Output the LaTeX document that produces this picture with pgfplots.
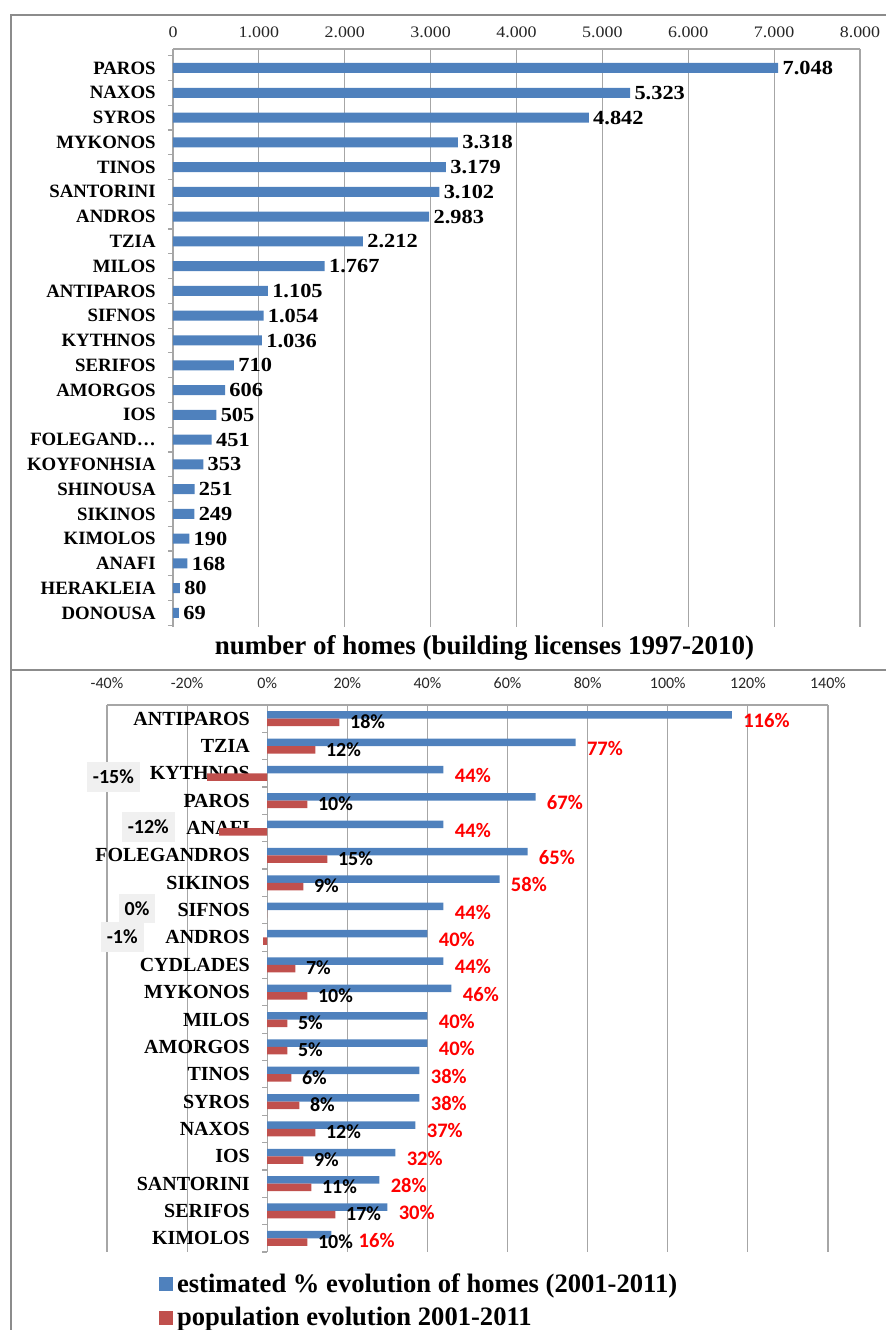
\documentclass[border=0pt]{standalone}
\usepackage{pgfplots}
\pgfplotsset{compat=1.18}
\usepackage{fontspec}
\setmainfont{Liberation Serif}
\newfontfamily\serifwide[FakeStretch=1.12]{Liberation Serif}
\newfontfamily\calib{Carlito}
\definecolor{cblue}{HTML}{4F81BD}
\definecolor{cred}{HTML}{C0504D}
\definecolor{gridc}{HTML}{A6A6A6}
\def\nnstr{n}
\newcommand{\redlab}[1]{\edef\tmp{#1}\ifx\tmp\nnstr\else\tmp\%\fi}
\begin{document}
\begin{tikzpicture}
\path[use as bounding box] (0pt,0pt) rectangle (443pt,665pt);
% ---------------- top panel ----------------
\begin{axis}[
 at={(86.5pt,351.5pt)}, anchor=south west,
 scale only axis, width=343.5pt, height=289pt,
 bar width=5pt,
 xmin=0, xmax=8000, ymin=-0.565, ymax=22.767,
 axis x line=top, axis y line=left,
 axis line style={-, draw=gridc, line width=0.6pt},
 xtick={0,1000,...,8000},
 xticklabels={0,1.000,2.000,3.000,4.000,5.000,6.000,7.000,8.000},
 xticklabel style={font=\serifwide\fontsize{8}{9}\selectfont, text=black!85, inner sep=0pt, anchor=south},
 xticklabel shift=5.6pt,
 ytick={0,...,22},
 yticklabels={DONOUSA,HERAKLEIA,ANAFI,KIMOLOS,SIKINOS,SHINOUSA,KOYFONHSIA,FOLEGAND…,IOS,AMORGOS,SERIFOS,KYTHNOS,SIFNOS,ANTIPAROS,MILOS,TZIA,ANDROS,SANTORINI,TINOS,MYKONOS,SYROS,NAXOS,PAROS},
 yticklabel style={font=\fontsize{9.4}{11}\selectfont\bfseries, inner sep=0pt, anchor=east, xshift=-8.5pt},
 major tick length=0pt,
 minor ytick={-0.5,0.5,...,22.5},
 minor tick length=2.5pt, tick align=outside,
 minor tick style={draw=gridc, line width=0.6pt},
 xmajorgrids, major grid style={draw=gridc, line width=0.6pt},
 clip=false,
]
\addplot[xbar, fill=cblue, draw=none, point meta=x,
 nodes near coords={\pgfmathprintnumber[1000 sep={.}, assume math mode=true]{\pgfplotspointmeta}},
 nodes near coords style={anchor=west, inner sep=0pt, xshift=2pt, font=\serifwide\fontsize{10}{12}\selectfont\bfseries}]
 table[x=x,y=y] {
x y
69 0
80 1
168 2
190 3
249 4
251 5
353 6
451 7
505 8
606 9
710 10
1036 11
1054 12
1105 13
1767 14
2212 15
2983 16
3102 17
3179 18
3318 19
4842 20
5323 21
7048 22
};
\end{axis}
% ---------------- bottom panel ----------------
\begin{axis}[
 at={(53.5pt,39pt)}, anchor=south west,
 scale only axis, width=360.5pt, height=273.5pt,
 bar width=3.75pt,
 xmin=-40, xmax=140, ymin=-0.5, ymax=19.5,
 axis x line=top, axis y line=left,
 axis line style={-, draw=gridc, line width=0.6pt},
 xtick={-40,-20,...,140},
 xticklabels={-40\%,-20\%,0\%,20\%,40\%,60\%,80\%,100\%,120\%,140\%},
 xticklabel style={font=\calib\fontsize{8}{9}\selectfont, text=black!85, inner sep=0pt, anchor=south},
 xticklabel shift=8pt,
 ytick={0,...,19},
 yticklabels={KIMOLOS,SERIFOS,SANTORINI,IOS,NAXOS,SYROS,TINOS,AMORGOS,MILOS,MYKONOS,CYDLADES,ANDROS,SIFNOS,SIKINOS,FOLEGANDROS,ANAFI,PAROS,KYTHNOS,TZIA,ANTIPAROS},
 yticklabel style={font=\fontsize{10}{12}\selectfont\bfseries, inner sep=0pt, anchor=east, xshift=71.6pt},
 major tick length=0pt,
 xmajorgrids, major grid style={draw=gridc, line width=0.6pt},
 clip=false,
 legend style={draw=none, fill=none, at={(axis description cs:0.0716,-0.031)}, anchor=north west,
   font=\fontsize{13.3}{15}\selectfont\bfseries, row sep=2pt, inner sep=0pt},
 legend cell align=left,
 legend image code/.code={\fill[#1] (0pt,-3.5pt) rectangle (7pt,3.5pt);},
]
\pgfplotsinvokeforeach{-0.5,0.5,...,19.5}{
 \draw[gridc, line width=0.6pt] (axis cs:0,#1) -- ++(-2.5pt,0pt);
}
\addplot[xbar, fill=cblue, draw=none, bar shift=1.875pt, point meta=x,
 visualization depends on={value \thisrow{dx} \as \dx},
 nodes near coords={\pgfmathprintnumber[assume math mode=true]{\pgfplotspointmeta}\%},
 nodes near coords style={anchor=west, inner sep=0pt, xshift=\dx pt, yshift=-1pt, text=red, font=\calib\fontsize{10.3}{12}\selectfont\bfseries}]
 table[x=x,y=y] {
x y dx
116 19 5.5
77 18 5.5
44 17 5.5
67 16 5.5
44 15 5.5
65 14 5.5
58 13 5.5
44 12 5.5
40 11 5.5
44 10 5.5
46 9 5.5
40 8 5.5
40 7 5.5
38 6 5.5
38 5 5.5
37 4 5.5
32 3 5.5
28 2 5.5
30 1 5.5
16 0 13.5
};
\addlegendentry{estimated \% evolution of homes (2001-2011)}
\addplot[xbar, fill=cred, draw=none, bar shift=-1.875pt, point meta=explicit symbolic,
 nodes near coords={\redlab{\pgfplotspointmeta}},
 nodes near coords style={anchor=west, inner sep=0pt, xshift=5.2pt, yshift=-1.6pt, text=black, font=\calib\fontsize{10}{12}\selectfont\bfseries}]
 table[x=x,y=y,meta=lab] {
x y lab
18 19 18
12 18 12
-15 17 n
10 16 10
-12 15 n
15 14 15
9 13 9
0 12 n
-1 11 n
7 10 7
10 9 10
5 8 5
5 7 5
6 6 6
8 5 8
12 4 12
9 3 9
11 2 11
17 1 17
10 0 10
};
\addlegendentry{population evolution 2001-2011}
\addplot[only marks, mark=none, forget plot, point meta=explicit symbolic,
 nodes near coords={\pgfplotspointmeta\%},
 nodes near coords style={anchor=center, fill=black!6, inner xsep=3pt, inner ysep=4pt, text=black, font=\calib\fontsize{10}{12}\selectfont\bfseries}]
 table[x=x,y=y,meta=lab] {
x y lab
-38.4 16.87 -15
-29.7 15.04 -12
-32.5 12.06 0
-36.2 11.02 -1
};
\end{axis}
% ---------------- title and frame ----------------
\node[font=\fontsize{13.5}{16}\selectfont\bfseries] at (242.25pt,341pt) {number of homes (building licenses 1997-2010)};
\draw[draw=black!45, line width=0.8pt] (5.5pt,0pt) -- (5.5pt,657.5pt) -- (443pt,657.5pt);
\draw[draw=black!45, line width=1pt] (5.5pt,330pt) -- (443pt,330pt);
\end{tikzpicture}
\end{document}
